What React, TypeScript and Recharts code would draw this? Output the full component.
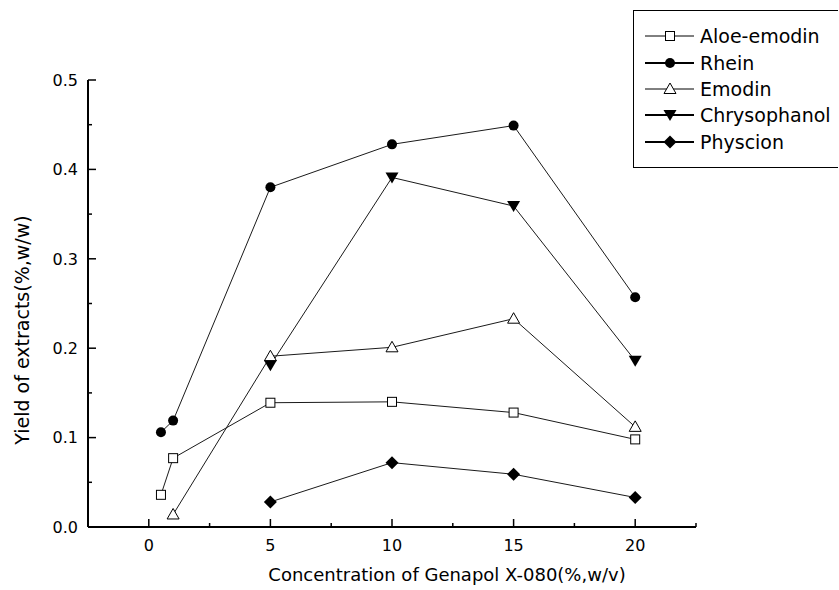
import React from 'react';
import { LineChart, Line, XAxis, YAxis, Legend } from 'recharts';

// Yield of each compound vs Genapol X-080 concentration
const aloeEmodin = [
  { x: 0.5, y: 0.036 },
  { x: 1, y: 0.077 },
  { x: 5, y: 0.139 },
  { x: 10, y: 0.14 },
  { x: 15, y: 0.128 },
  { x: 20, y: 0.098 },
];
const rhein = [
  { x: 0.5, y: 0.106 },
  { x: 1, y: 0.119 },
  { x: 5, y: 0.38 },
  { x: 10, y: 0.428 },
  { x: 15, y: 0.449 },
  { x: 20, y: 0.257 },
];
const emodin = [
  { x: 1, y: 0.014 },
  { x: 5, y: 0.191 },
  { x: 10, y: 0.201 },
  { x: 15, y: 0.233 },
  { x: 20, y: 0.112 },
];
const chrysophanol = [
  { x: 5, y: 0.181 },
  { x: 10, y: 0.391 },
  { x: 15, y: 0.359 },
  { x: 20, y: 0.186 },
];
const physcion = [
  { x: 5, y: 0.028 },
  { x: 10, y: 0.072 },
  { x: 15, y: 0.059 },
  { x: 20, y: 0.033 },
];

const xTicks = [0, 2.5, 5, 7.5, 10, 12.5, 15, 17.5, 20, 22.5];
const xMajor = [0, 5, 10, 15, 20];
const yTicks = [0, 0.05, 0.1, 0.15, 0.2, 0.25, 0.3, 0.35, 0.4, 0.45, 0.5];
const yMajor = [0, 0.1, 0.2, 0.3, 0.4, 0.5];

const FONT = '"DejaVu Sans", Arial, sans-serif';
const INK = '#000';

type Shape = 'square' | 'circle' | 'triangle' | 'down' | 'diamond';

const series: Array<{ name: string; data: { x: number; y: number }[]; shape: Shape; legendWidth: number }> = [
  { name: 'Aloe-emodin', data: aloeEmodin, shape: 'square', legendWidth: 1 },
  { name: 'Rhein', data: rhein, shape: 'circle', legendWidth: 2 },
  { name: 'Emodin', data: emodin, shape: 'triangle', legendWidth: 1 },
  { name: 'Chrysophanol', data: chrysophanol, shape: 'down', legendWidth: 2 },
  { name: 'Physcion', data: physcion, shape: 'diamond', legendWidth: 2 },
];

// draws one symbol centred on cx, cy
const Symbol = ({ shape, cx, cy }: { shape: Shape; cx: number; cy: number }) => {
  switch (shape) {
    case 'square':
      return <rect x={cx - 4.5} y={cy - 4.5} width={9} height={9} fill="#fff" stroke={INK} strokeWidth={1} />;
    case 'circle':
      return <circle cx={cx} cy={cy} r={5} fill={INK} />;
    case 'triangle':
      return (
        <polygon
          points={`${cx},${cy - 6} ${cx + 6},${cy + 4.5} ${cx - 6},${cy + 4.5}`}
          fill="#fff"
          stroke={INK}
          strokeWidth={1}
        />
      );
    case 'down':
      return <polygon points={`${cx - 6.5},${cy - 5} ${cx + 6.5},${cy - 5} ${cx},${cy + 6}`} fill={INK} />;
    default:
      return <polygon points={`${cx},${cy - 6.5} ${cx + 6.5},${cy} ${cx},${cy + 6.5} ${cx - 6.5},${cy}`} fill={INK} />;
  }
};

// ticks point inward, like the Origin plot
const XTick = (props: any) => {
  const { x, y, payload } = props;
  const major = xMajor.includes(payload.value);
  return (
    <g>
      <line x1={x} y1={y} x2={x} y2={y - (major ? 8 : 4)} stroke={INK} strokeWidth={1.5} />
      {major && (
        <text x={x} y={y + 24} textAnchor="middle" fontFamily={FONT} fontSize={16} fill={INK}>
          {payload.value}
        </text>
      )}
    </g>
  );
};

const YTick = (props: any) => {
  const { x, y, payload } = props;
  const major = yMajor.some((v) => Math.abs(v - payload.value) < 1e-9);
  return (
    <g>
      <line x1={x} y1={y} x2={x + (major ? 8 : 4)} y2={y} stroke={INK} strokeWidth={1.5} />
      {major && (
        <text x={x - 10} y={y} dy="0.36em" textAnchor="end" fontFamily={FONT} fontSize={16} fill={INK}>
          {payload.value.toFixed(1)}
        </text>
      )}
    </g>
  );
};

const XTitle = () => (
  <text x={447} y={581} textAnchor="middle" fontFamily={FONT} fontSize={18} fill={INK}>
    Concentration of Genapol X-080(%,w/v)
  </text>
);

const YTitle = () => (
  <text
    x={22}
    y={330}
    transform="rotate(-90 22 330)"
    dy="0.36em"
    textAnchor="middle"
    fontFamily={FONT}
    fontSize={19}
    fill={INK}
  >
    Yield of extracts(%,w/w)
  </text>
);

const LegendBox = () => (
  <div
    style={{
      border: '1.5px solid #000',
      borderRight: 'none',
      background: '#fff',
      width: 205,
      height: 158,
      boxSizing: 'border-box',
      paddingTop: 12,
    }}
  >
    {series.map((s) => (
      <div key={s.name} style={{ display: 'flex', alignItems: 'center', height: 26.4 }}>
        <svg width={64} height={20} style={{ flex: 'none' }}>
          <line x1={11} y1={10} x2={60} y2={10} stroke={INK} strokeWidth={s.legendWidth} />
          <Symbol shape={s.shape} cx={36} cy={10} />
        </svg>
        <span style={{ fontFamily: FONT, fontSize: 19, color: INK, whiteSpace: 'nowrap', marginLeft: 2 }}>
          {s.name}
        </span>
      </div>
    ))}
  </div>
);

const App: React.FC = () => {
  return (
    <div style={{ position: 'absolute', left: 0, top: 0, background: '#fff' }}>
      <LineChart width={839} height={590} margin={{ top: 80, right: 143, bottom: 33, left: 0 }}>
        <XAxis
          type="number"
          dataKey="x"
          domain={[-2.5, 22.5]}
          ticks={xTicks}
          interval={0}
          height={30}
          tickSize={0}
          tickMargin={0}
          tickLine={false}
          tick={<XTick />}
          axisLine={{ stroke: INK, strokeWidth: 2 }}
          allowDataOverflow
          label={<XTitle />}
        />
        <YAxis
          type="number"
          dataKey="y"
          domain={[0, 0.5]}
          ticks={yTicks}
          interval={0}
          width={88}
          tickSize={0}
          tickMargin={0}
          tickLine={false}
          tick={<YTick />}
          axisLine={{ stroke: INK, strokeWidth: 2 }}
          allowDataOverflow
          label={<YTitle />}
        />
        <Legend
          layout="vertical"
          align="center"
          verticalAlign="middle"
          wrapperStyle={{ left: 633, top: 10, width: 206, height: 160 }}
          content={() => <LegendBox />}
        />
        {series.map((s) => (
          <Line
            key={s.name}
            name={s.name}
            data={s.data}
            dataKey="y"
            type="linear"
            stroke="#1a1a1a"
            strokeWidth={1}
            isAnimationActive={false}
            dot={(p: any) => <Symbol key={`${s.name}-${p.index}`} shape={s.shape} cx={p.cx} cy={p.cy} />}
            activeDot={false}
          />
        ))}
      </LineChart>
    </div>
  );
};

export default App;
